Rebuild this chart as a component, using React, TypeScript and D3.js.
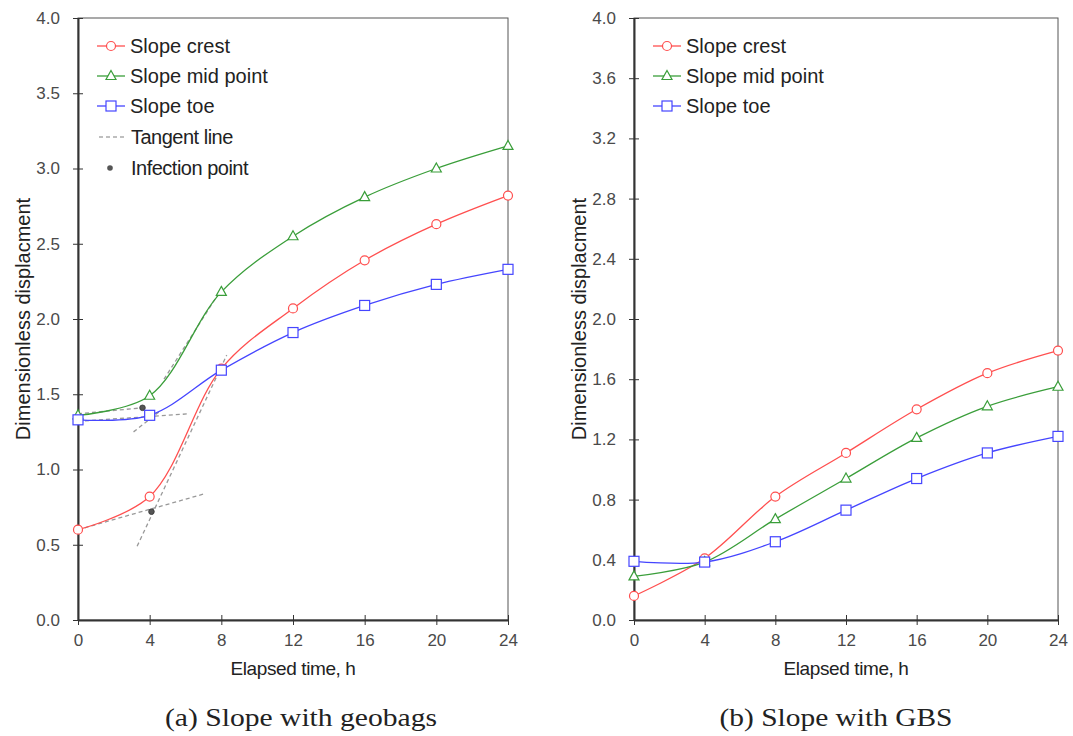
import React, { useEffect, useRef } from "react";
import * as d3 from "d3";

// elapsed time, h
const hours = [0, 4, 8, 12, 16, 20, 24];

// (a) slope with geobags
const geoCrest = [0.6, 0.82, 1.67, 2.07, 2.39, 2.63, 2.82];
const geoMid = [1.36, 1.49, 2.18, 2.55, 2.81, 3.0, 3.15];
const geoToe = [1.33, 1.36, 1.66, 1.91, 2.09, 2.23, 2.33];

// tangent lines and infection points on (a)
const tangentLines = [
  [[0, 0.6], [7.1, 0.84]],
  [[3.3, 0.49], [8.3, 1.76]],
  [[0, 1.32], [6.2, 1.37]],
  [[3.1, 1.25], [4.6, 1.39]],
  [[0, 1.37], [3.6, 1.41]],
  [[4.8, 1.6], [7.8, 2.16]],
];
const infectionPoints = [
  [3.6, 1.41],
  [4.1, 1.35],
  [4.1, 0.72],
];

// (b) slope with GBS
const gbsCrest = [0.16, 0.41, 0.82, 1.11, 1.4, 1.64, 1.79];
const gbsMid = [0.29, 0.385, 0.67, 0.94, 1.21, 1.42, 1.55];
const gbsToe = [0.39, 0.385, 0.52, 0.73, 0.94, 1.11, 1.22];

const xTicks = [0, 4, 8, 12, 16, 20, 24];
const yTicksA = [0, 0.5, 1, 1.5, 2, 2.5, 3, 3.5, 4];
const yTicksB = [0, 0.4, 0.8, 1.2, 1.6, 2.0, 2.4, 2.8, 3.2, 3.6, 4.0];

const RED = "#ff4f4f";
const GREEN = "#3a9e3a";
const BLUE = "#4545ff";
const font = "'Liberation Sans', Arial, sans-serif";

function drawMarker(g, shape, x, y, color) {
  if (shape === "circle") {
    g.append("circle").attr("cx", x).attr("cy", y).attr("r", 4.5)
      .attr("fill", "white").attr("stroke", color).attr("stroke-width", 1.2);
  } else if (shape === "triangle") {
    g.append("path").attr("d", `M${x},${y - 5.5}L${x + 5},${y + 3.5}L${x - 5},${y + 3.5}Z`)
      .attr("fill", "white").attr("stroke", color).attr("stroke-width", 1.2);
  } else {
    g.append("rect").attr("x", x - 5).attr("y", y - 5).attr("width", 10).attr("height", 10)
      .attr("fill", "white").attr("stroke", color).attr("stroke-width", 1.2);
  }
}

function drawPanel(svg, opts) {
  const { left, right, top, bottom, yTicks, yFormat, series, caption, captionX, captionW, legendX, extras } = opts;
  const x = d3.scaleLinear().domain([0, 24]).range([left, right]);
  const y = d3.scaleLinear().domain([0, 4]).range([bottom, top]);
  const g = svg.append("g");

  // frame
  g.append("rect").attr("x", left).attr("y", top).attr("width", right - left)
    .attr("height", bottom - top).attr("fill", "none").attr("stroke", "#555").attr("stroke-width", 1);

  // axes
  const ya = g.append("g").attr("transform", `translate(${left},0)`)
    .call(d3.axisLeft(y).tickValues(yTicks).tickFormat(yFormat).tickSizeInner(5).tickSizeOuter(0));
  ya.select(".domain").attr("stroke", "#333").attr("stroke-width", 2);
  ya.selectAll(".tick line").attr("x2", 5).attr("x1", -5).attr("stroke", "#333");
  ya.selectAll(".tick text").attr("x", -18).attr("fill", "#4a4a4a").style("font-size", "17px").style("font-family", font);

  const xa = g.append("g").attr("transform", `translate(0,${bottom})`)
    .call(d3.axisBottom(x).tickValues(xTicks).tickSizeInner(5).tickSizeOuter(0));
  xa.select(".domain").attr("stroke", "#333").attr("stroke-width", 2);
  xa.selectAll(".tick line").attr("y1", -5).attr("y2", 5).attr("stroke", "#333");
  xa.selectAll(".tick text").attr("y", 14).attr("fill", "#4a4a4a").style("font-size", "17px").style("font-family", font);

  // axis titles
  g.append("text").attr("x", (left + right) / 2).attr("y", bottom + 55).attr("text-anchor", "middle")
    .style("font-family", font).style("font-size", "19px").style("letter-spacing", "-0.4px")
    .attr("fill", "#222").text("Elapsed time, h");
  g.append("text").attr("transform", `translate(${left - 48},${(top + bottom) / 2}) rotate(-90)`)
    .attr("text-anchor", "middle").style("font-family", font).style("font-size", "20px").attr("fill", "#222")
    .text("Dimensionless displacment");

  // caption
  g.append("text").attr("x", captionX).attr("y", 726).attr("text-anchor", "middle")
    .attr("textLength", captionW).attr("lengthAdjust", "spacingAndGlyphs")
    .style("font-family", "'Liberation Serif', 'Times New Roman', serif").style("font-size", "25px")
    .attr("fill", "#222").text(caption);

  if (extras) extras(g, x, y);

  const line = d3.line().x((d) => x(d[0])).y((d) => y(d[1])).curve(d3.curveCatmullRom.alpha(0.5));
  series.forEach((s) => {
    const pts = hours.map((h, i) => [h, s.values[i]]);
    g.append("path").attr("d", line(pts)).attr("fill", "none").attr("stroke", s.color).attr("stroke-width", 1.3);
    pts.forEach((p) => drawMarker(g, s.shape, x(p[0]), y(p[1]), s.color));
  });

  // legend
  series.forEach((s, i) => {
    const ly = 46 + i * 30;
    g.append("line").attr("x1", legendX).attr("x2", legendX + 28).attr("y1", ly).attr("y2", ly)
      .attr("stroke", s.color).attr("stroke-width", 1.3);
    drawMarker(g, s.shape, legendX + 14, ly, s.color);
    g.append("text").attr("x", legendX + 33).attr("y", ly + 7).style("font-family", font)
      .style("font-size", "20px").attr("fill", "#222").text(s.name);
  });
  return g;
}

export default function App() {
  const ref = useRef(null);
  useEffect(() => {
    const svg = d3.select(ref.current);
    svg.selectAll("*").remove();

    drawPanel(svg, {
      left: 78, right: 508, top: 18, bottom: 620,
      yTicks: yTicksA, yFormat: d3.format(".1f"),
      caption: "(a) Slope with geobags", captionX: 301, captionW: 272, legendX: 97,
      series: [
        { name: "Slope crest", values: geoCrest, color: RED, shape: "circle" },
        { name: "Slope mid point", values: geoMid, color: GREEN, shape: "triangle" },
        { name: "Slope toe", values: geoToe, color: BLUE, shape: "square" },
      ],
      extras: (g, x, y) => {
        tangentLines.forEach((l) => {
          g.append("line").attr("x1", x(l[0][0])).attr("y1", y(l[0][1]))
            .attr("x2", x(l[1][0])).attr("y2", y(l[1][1]))
            .attr("stroke", "#999").attr("stroke-width", 1.3).attr("stroke-dasharray", "4,3");
        });
        infectionPoints.forEach((p) => {
          g.append("circle").attr("cx", x(p[0])).attr("cy", y(p[1])).attr("r", 2.8)
            .attr("fill", "#555").attr("stroke", "#333").attr("stroke-width", 0.8);
        });
        // extra legend rows
        g.append("line").attr("x1", 99).attr("x2", 125).attr("y1", 137).attr("y2", 137)
          .attr("stroke", "#aaa").attr("stroke-width", 1.3).attr("stroke-dasharray", "4,3");
        g.append("text").attr("x", 131).attr("y", 144).style("font-family", font)
          .style("font-size", "20px").style("letter-spacing", "-0.5px").attr("fill", "#222").text("Tangent line");
        g.append("circle").attr("cx", 110).attr("cy", 168).attr("r", 2.8).attr("fill", "#555");
        g.append("text").attr("x", 131).attr("y", 175).style("font-family", font)
          .style("font-size", "20px").style("letter-spacing", "-0.5px").attr("fill", "#222").text("Infection point");
      },
    });

    drawPanel(svg, {
      left: 634, right: 1058, top: 18, bottom: 620,
      yTicks: yTicksB, yFormat: d3.format(".1f"),
      caption: "(b) Slope with GBS", captionX: 836, captionW: 233, legendX: 653,
      series: [
        { name: "Slope crest", values: gbsCrest, color: RED, shape: "circle" },
        { name: "Slope mid point", values: gbsMid, color: GREEN, shape: "triangle" },
        { name: "Slope toe", values: gbsToe, color: BLUE, shape: "square" },
      ],
    });
  }, []);

  return (
    <svg ref={ref} width={1073} height={736}
      style={{ position: "absolute", left: 0, top: 0, background: "white" }} />
  );
}
